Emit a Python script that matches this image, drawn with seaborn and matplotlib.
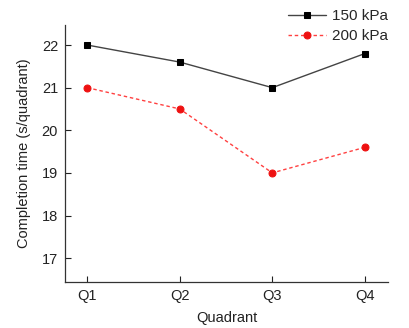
import matplotlib
matplotlib.use("Agg")
import matplotlib.pyplot as plt
import seaborn as sns
import pandas as pd

quadrants = ["Q1", "Q2", "Q3", "Q4"]
time_150 = [22.0, 21.6, 21.0, 21.8]
time_200 = [21.0, 20.5, 19.0, 19.6]
y_ticks = [17, 18, 19, 20, 21, 22]

df = pd.DataFrame({
    "Quadrant": quadrants * 2,
    "pos": list(range(len(quadrants))) * 2,
    "time": time_150 + time_200,
    "Pressure": ["150 kPa"] * 4 + ["200 kPa"] * 4,
})

sns.set_style("ticks")
plt.rcParams["font.family"] = ["Liberation Sans", "DejaVu Sans"]

fig = plt.figure(figsize=(4.10, 3.28), dpi=100)
ax = fig.add_axes([65 / 410, 1 - 282 / 328, (388 - 65) / 410, (282 - 25) / 328])

sns.lineplot(data=df[df.Pressure == "150 kPa"], x="pos", y="time", ax=ax,
             color="#444444", lw=1.0, marker="s", markersize=4.5,
             markeredgecolor="black", markerfacecolor="black", label="150 kPa")
sns.lineplot(data=df[df.Pressure == "200 kPa"], x="pos", y="time", ax=ax,
             color="#ff4040", lw=1.0, linestyle=(0, (2.5, 2)), marker="o", markersize=5,
             markeredgecolor="#ee1111", markerfacecolor="#ee1111", label="200 kPa")

ax.set_xlim(-0.24, 3.25)
ax.set_ylim(16.44, 22.47)
ax.set_xticks(range(len(quadrants)))
ax.set_xticklabels(quadrants)
ax.set_yticks(y_ticks)
ax.tick_params(direction="in", length=4, width=0.8, labelsize=10.5, colors="#222222", pad=5)
for s in ["top", "right"]:
    ax.spines[s].set_visible(False)
for s in ["left", "bottom"]:
    ax.spines[s].set_linewidth(0.9)
    ax.spines[s].set_color("#333333")

ax.set_xlabel("Quadrant", fontsize=10.5, color="#222222", labelpad=6)
ax.set_ylabel("Completion time (s/quadrant)", fontsize=10.5, color="#222222", labelpad=8)

leg = ax.legend(loc="upper right", bbox_to_anchor=(1.02, 1.085), frameon=False,
                fontsize=11, handlelength=2.5, handletextpad=0.4, labelspacing=0.4,
                borderaxespad=0)

fig.savefig("out.png", dpi=100)
